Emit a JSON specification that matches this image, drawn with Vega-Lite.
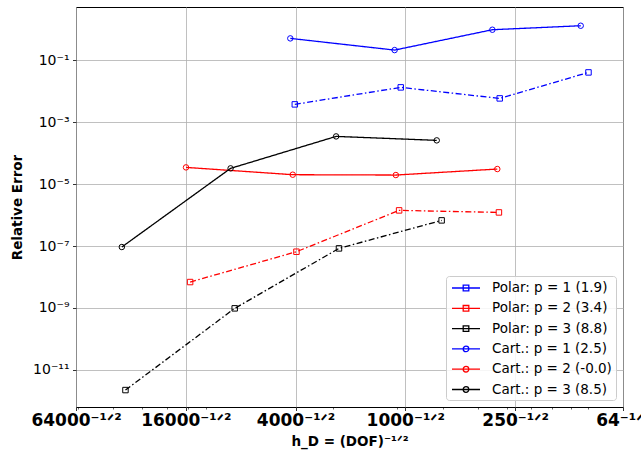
{
  "$schema": "https://vega.github.io/schema/vega-lite/v6.json",
  "width": 547,
  "height": 400,
  "autosize": {"type": "none"},
  "padding": {"left": 76, "top": 7, "right": 18, "bottom": 45},
  "background": "white",
  "config": {
    "font": "DejaVu Sans",
    "view": {"stroke": "#000000", "strokeWidth": 1},
    "axis": {"labelFont": "DejaVu Sans", "titleFont": "DejaVu Sans", "labelColor": "#000", "titleColor": "#000", "tickColor": "#000", "domainColor": "#000", "gridColor": "#b0b0b0", "gridWidth": 0.8, "tickWidth": 0.8, "domain": false}
  },
  "data": {
    "values": [
      {"series": "Polar: p = 1 (1.9)", "type": "Polar", "h": 0.015737, "err": 0.00378},
      {"series": "Polar: p = 1 (1.9)", "type": "Polar", "h": 0.03072, "err": 0.0134},
      {"series": "Polar: p = 1 (1.9)", "type": "Polar", "h": 0.05739, "err": 0.0059},
      {"series": "Polar: p = 1 (1.9)", "type": "Polar", "h": 0.10052, "err": 0.0408},
      {"series": "Polar: p = 2 (3.4)", "type": "Polar", "h": 0.008125, "err": 6.87e-9},
      {"series": "Polar: p = 2 (3.4)", "type": "Polar", "h": 0.015902, "err": 6.56e-8},
      {"series": "Polar: p = 2 (3.4)", "type": "Polar", "h": 0.030405, "err": 1.42e-6},
      {"series": "Polar: p = 2 (3.4)", "type": "Polar", "h": 0.0571, "err": 1.22e-6},
      {"series": "Polar: p = 3 (8.8)", "type": "Polar", "h": 0.005402, "err": 2.22e-12},
      {"series": "Polar: p = 3 (8.8)", "type": "Polar", "h": 0.010767, "err": 9.7e-10},
      {"series": "Polar: p = 3 (8.8)", "type": "Polar", "h": 0.0208, "err": 8.4e-8},
      {"series": "Polar: p = 3 (8.8)", "type": "Polar", "h": 0.03977, "err": 6.75e-7},
      {"series": "Cart.: p = 1 (2.5)", "type": "Cart.", "h": 0.015297, "err": 0.513},
      {"series": "Cart.: p = 1 (2.5)", "type": "Cart.", "h": 0.029555, "err": 0.215},
      {"series": "Cart.: p = 1 (2.5)", "type": "Cart.", "h": 0.05479, "err": 0.977},
      {"series": "Cart.: p = 1 (2.5)", "type": "Cart.", "h": 0.0957, "err": 1.315},
      {"series": "Cart.: p = 2 (-0.0)", "type": "Cart.", "h": 0.007918, "err": 3.48e-5},
      {"series": "Cart.: p = 2 (-0.0)", "type": "Cart.", "h": 0.015535, "err": 2.02e-5},
      {"series": "Cart.: p = 2 (-0.0)", "type": "Cart.", "h": 0.029784, "err": 1.97e-5},
      {"series": "Cart.: p = 2 (-0.0)", "type": "Cart.", "h": 0.05652, "err": 3.08e-5},
      {"series": "Cart.: p = 3 (8.5)", "type": "Cart.", "h": 0.005279, "err": 9.3e-8},
      {"series": "Cart.: p = 3 (8.5)", "type": "Cart.", "h": 0.010492, "err": 3.24e-5},
      {"series": "Cart.: p = 3 (8.5)", "type": "Cart.", "h": 0.020428, "err": 3.49e-4},
      {"series": "Cart.: p = 3 (8.5)", "type": "Cart.", "h": 0.03856, "err": 2.6e-4}
    ]
  },
  "encoding": {
    "y": {
      "field": "err", "type": "quantitative",
      "scale": {"type": "log", "domain": [6.3e-13, 5.3], "nice": false},
      "axis": {
        "values": [1e-11, 1e-9, 1e-7, 1e-5, 1e-3, 1e-1],
        "labelExpr": "datum.value > 0.05 ? '10⁻¹' : datum.value > 5e-4 ? '10⁻³' : datum.value > 5e-6 ? '10⁻⁵' : datum.value > 5e-8 ? '10⁻⁷' : datum.value > 5e-10 ? '10⁻⁹' : '10⁻¹¹'",
        "labelFontSize": 14, "tickSize": 3.5, "labelPadding": 3.5,
        "title": "Relative Error", "titleFontSize": 13.5, "titleFontWeight": "bold", "titlePadding": 8,
        "grid": true, "labelOverlap": false
      }
    },
    "color": {
      "field": "series", "type": "nominal",
      "scale": {
        "domain": ["Polar: p = 1 (1.9)", "Polar: p = 2 (3.4)", "Polar: p = 3 (8.8)", "Cart.: p = 1 (2.5)", "Cart.: p = 2 (-0.0)", "Cart.: p = 3 (8.5)"],
        "range": ["#0000ff", "#ff0000", "#000000", "#0000ff", "#ff0000", "#000000"]
      },
      "legend": {
        "title": null, "orient": "bottom-right", "offset": 7,
        "symbolSize": 196, "symbolStrokeWidth": 1.3,
        "labelFontSize": 13.5, "labelFont": "DejaVu Sans", "labelColor": "#000", "labelLimit": 300,
        "labelOffset": 26, "rowPadding": 5.3, "padding": 4,
        "strokeColor": "#cccccc", "fillColor": "rgba(255,255,255,0.85)", "cornerRadius": 3,
        "encode": {
          "symbols": {
            "update": {
              "shape": {"signal": "datum.index < 3 ? 'M-0.857,0H3.143M0.743,-0.4H1.543V0.4H0.743Z' : 'M-0.857,0H3.143M0.743,0A0.4,0.4 0 1,1 1.543,0A0.4,0.4 0 1,1 0.743,0Z'"},
              "fill": {"value": "transparent"},
              "strokeWidth": {"value": 1.3}
            }
          }
        }
      }
    }
  },
  "layer": [
    {
      "mark": {"type": "line", "strokeWidth": 1.3, "clip": true},
      "encoding": {
        "x": {
          "field": "h", "type": "quantitative",
          "scale": {"type": "log", "domain": [0.00395284707521, 0.125], "nice": false},
          "axis": {
            "orient": "bottom",
            "values": [0.00395284707521, 0.00790569415042, 0.0158113883008, 0.0316227766017, 0.0632455532034, 0.125],
            "labelExpr": "datum.value < 0.005 ? '64000⁻¹ᐟ²' : datum.value < 0.01 ? '16000⁻¹ᐟ²' : datum.value < 0.02 ? '4000⁻¹ᐟ²' : datum.value < 0.04 ? '1000⁻¹ᐟ²' : datum.value < 0.1 ? '250⁻¹ᐟ²' : '64⁻¹ᐟ²'",
            "labelFontSize": 17, "labelFontWeight": "bold", "tickSize": 3.5, "labelPadding": 2,
            "labelOverlap": false, "labelBound": false, "labelFlush": false,
            "title": "h_D = (DOF)⁻¹ᐟ²", "titleFontSize": 13.5, "titleFontWeight": "bold", "titlePadding": 6,
            "grid": true
          }
        },
        "strokeDash": {
          "field": "type", "type": "nominal",
          "scale": {"domain": ["Polar", "Cart."], "range": [[6, 2.5, 1.5, 2.5], [1, 0]]},
          "legend": null
        }
      }
    },
    {
      "mark": {"type": "point", "filled": false, "size": 30, "strokeWidth": 1, "opacity": 1},
      "encoding": {
        "x": {
          "field": "h", "type": "quantitative",
          "scale": {"type": "log", "domain": [0.00395284707521, 0.125], "nice": false},
          "axis": {
            "orient": "bottom",
            "values": [0.004, 0.005, 0.006, 0.007, 0.008, 0.009, 0.02, 0.03, 0.04, 0.05, 0.06, 0.07, 0.08, 0.09, 0.1],
            "labels": false, "grid": false, "tickSize": 2, "tickWidth": 0.6, "title": null
          }
        },
        "shape": {
          "field": "type", "type": "nominal",
          "scale": {"domain": ["Polar", "Cart."], "range": ["square", "circle"]},
          "legend": null
        }
      }
    }
  ],
  "resolve": {"axis": {"x": "independent"}}
}
